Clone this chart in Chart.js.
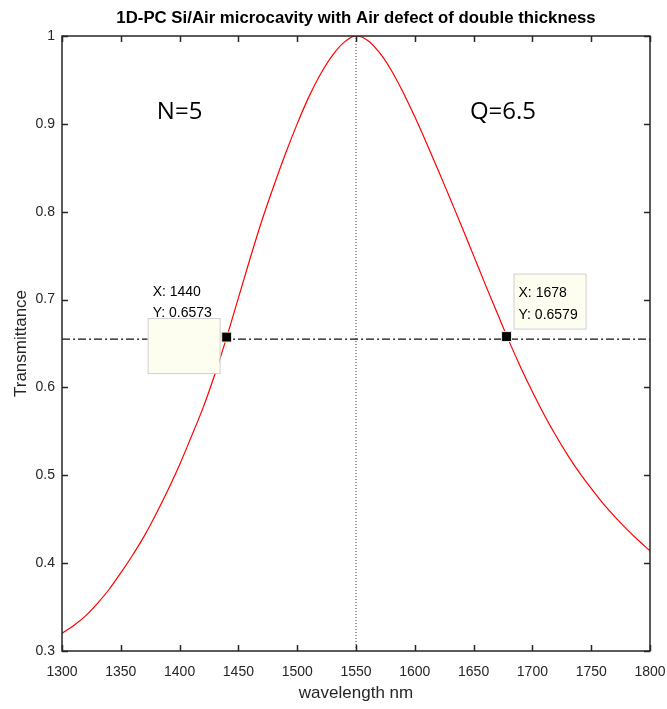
<!DOCTYPE html>
<html>
<head>
<meta charset="utf-8">
<title>1D-PC Si/Air microcavity</title>
<script src="https://cdn.jsdelivr.net/npm/chart.js@4/dist/chart.umd.min.js"></script>
<style>
  html, body { margin: 0; padding: 0; background: #ffffff; }
  #wrap { width: 667px; height: 709px; }
</style>
</head>
<body>
<div id="wrap"><canvas id="c" width="667" height="709"></canvas></div>
<script>
// Transmission spectrum of the microcavity (wavelength in nm)
const wavelengths = [
  1300, 1310, 1320, 1330, 1340, 1350, 1360, 1370, 1380, 1390,
  1400, 1410, 1420, 1430, 1440, 1450, 1460, 1470, 1480, 1490,
  1500, 1510, 1520, 1530, 1540, 1550, 1560, 1570, 1580, 1590,
  1600, 1610, 1620, 1630, 1640, 1650, 1660, 1670, 1680, 1690,
  1700, 1710, 1720, 1730, 1740, 1750, 1760, 1770, 1780, 1790, 1800
];
const transmittance = [
  0.320, 0.329, 0.340, 0.354, 0.370, 0.389, 0.409, 0.431, 0.456, 0.483,
  0.512, 0.544, 0.577, 0.615, 0.657, 0.702, 0.747, 0.790, 0.829, 0.866,
  0.900, 0.931, 0.957, 0.978, 0.993, 1.000, 0.995, 0.981, 0.961, 0.936,
  0.908, 0.878, 0.847, 0.815, 0.783, 0.750, 0.717, 0.685, 0.653, 0.623,
  0.595, 0.569, 0.545, 0.523, 0.503, 0.485, 0.468, 0.453, 0.439, 0.426, 0.414
];

// Data tips at the two half-height crossings
const tipX = [1440, 1678];
const tipY = [0.6573, 0.6579];

// Reference lines: resonance centre and crossing level
const centerWavelength = 1550;
const crossingLevel = 0.655;

// Axis ranges and tick steps
const xRange = [1300, 1800];
const yRange = [0.3, 1.0];
const xStep = 50;
const yStep = 0.1;

// Text annotations: [label, wavelength, transmittance]
const notes = [
  ['N=5', 1400, 0.913],
  ['Q=6.5', 1675, 0.913]
];

const chartTitle = '1D-PC Si/Air microcavity with Air defect of double thickness';

const AXIS_COLOR = '#262626';
const SANS = '"Liberation Sans", Arial, Helvetica, sans-serif';

const curvePoints = wavelengths.map((w, i) => ({ x: w, y: transmittance[i] }));
const tipPoints = tipX.map((w, i) => ({ x: w, y: tipY[i] }));

// Boxes of the data tips, drawn just before the marker squares
const dataTipBoxes = {
  id: 'dataTipBoxes',
  beforeDatasetDraw(chart, args) {
    if (args.index !== 0) return;
    const { ctx, scales: { x, y } } = chart;
    ctx.save();
    ctx.font = '14px ' + SANS;
    ctx.textAlign = 'left';
    ctx.textBaseline = 'alphabetic';
    tipPoints.forEach((p, i) => {
      const px = x.getPixelForValue(p.x);
      const py = y.getPixelForValue(p.y);
      let bx, by, tx, ty1, ty2;
      if (i === 0) {
        bx = px - 79; by = py - 19;
        tx = px - 74; ty1 = py - 41; ty2 = py - 20;
      } else {
        bx = px + 7; by = py - 63;
        tx = px + 12; ty1 = py - 40; ty2 = py - 18;
      }
      ctx.fillStyle = '#fefef0';
      ctx.strokeStyle = '#cfcfcf';
      ctx.lineWidth = 1;
      ctx.fillRect(bx, by, 72, 55);
      ctx.strokeRect(bx + 0.5, by + 0.5, 72, 55);
      ctx.fillStyle = '#000000';
      ctx.fillText('X: ' + p.x, tx, ty1);
      ctx.fillText('Y: ' + p.y.toFixed(4), tx, ty2);
    });
    ctx.restore();
  }
};

// Axes box with inward ticks on all four sides, the title and the text notes
const axesBox = {
  id: 'axesBox',
  afterDraw(chart) {
    const { ctx, chartArea: a, scales: { x, y } } = chart;
    ctx.save();
    ctx.strokeStyle = AXIS_COLOR;
    ctx.lineWidth = 1.5;
    ctx.strokeRect(a.left, a.top, a.right - a.left, a.bottom - a.top);
    const tl = 6;
    ctx.beginPath();
    for (let v = xRange[0]; v <= xRange[1] + 1e-9; v += xStep) {
      const px = Math.round(x.getPixelForValue(v)) + 0.5;
      ctx.moveTo(px, a.bottom); ctx.lineTo(px, a.bottom - tl);
      ctx.moveTo(px, a.top); ctx.lineTo(px, a.top + tl);
    }
    for (let k = 0; k <= Math.round((yRange[1] - yRange[0]) / yStep); k++) {
      const v = yRange[0] + k * yStep;
      const py = Math.round(y.getPixelForValue(v)) + 0.5;
      ctx.moveTo(a.left, py); ctx.lineTo(a.left + tl, py);
      ctx.moveTo(a.right, py); ctx.lineTo(a.right - tl, py);
    }
    ctx.stroke();

    // title centred over the plot area
    ctx.fillStyle = '#000000';
    ctx.font = 'bold 16.8px ' + SANS;
    ctx.textAlign = 'center';
    ctx.textBaseline = 'middle';
    ctx.fillText(chartTitle, (a.left + a.right) / 2, 18);

    ctx.font = '24px "Open Sans", Lato, sans-serif';
    notes.forEach(([t, wx, ty]) => {
      ctx.fillText(t, x.getPixelForValue(wx), y.getPixelForValue(ty));
    });
    ctx.restore();
  }
};

new Chart(document.getElementById('c'), {
  type: 'scatter',
  data: {
    datasets: [
      {
        label: 'data tips',
        data: tipPoints,
        showLine: false,
        pointStyle: 'rect',
        pointRadius: 7,
        pointBackgroundColor: '#000000',
        pointBorderColor: '#f3efc4',
        pointBorderWidth: 1
      },
      {
        label: 'transmittance',
        data: curvePoints,
        showLine: true,
        borderColor: '#ff0000',
        borderWidth: 1.2,
        pointRadius: 0,
        cubicInterpolationMode: 'monotone',
        fill: false
      },
      {
        label: 'crossing level',
        data: [{ x: xRange[0], y: crossingLevel }, { x: xRange[1], y: crossingLevel }],
        showLine: true,
        borderColor: '#111111',
        borderWidth: 1.1,
        borderDash: [8, 3, 2, 3],
        pointRadius: 0
      },
      {
        label: 'centre',
        data: [{ x: centerWavelength, y: yRange[0] }, { x: centerWavelength, y: yRange[1] }],
        showLine: true,
        borderColor: '#333333',
        borderWidth: 1,
        borderDash: [1, 2],
        pointRadius: 0
      }
    ]
  },
  options: {
    responsive: false,
    animation: false,
    devicePixelRatio: 1,
    layout: { padding: { left: 0, right: 17, top: 36, bottom: 0 } },
    plugins: {
      legend: { display: false },
      tooltip: { enabled: false },
      title: { display: false }
    },
    scales: {
      x: {
        type: 'linear',
        min: xRange[0],
        max: xRange[1],
        afterFit(s) { s.height = 58; s.paddingLeft = 0; s.paddingRight = 0; },
        afterBuildTicks(s) {
          const t = [];
          for (let v = xRange[0]; v <= xRange[1]; v += xStep) t.push({ value: v });
          s.ticks = t;
        },
        ticks: {
          color: AXIS_COLOR,
          font: { family: SANS, size: 14 },
          padding: 13,
          maxRotation: 0,
          autoSkip: false,
          callback: v => String(v)
        },
        grid: { display: true, drawOnChartArea: false, drawTicks: false },
        border: { display: false },
        title: {
          display: true,
          text: 'wavelength nm',
          color: AXIS_COLOR,
          font: { family: SANS, size: 17 },
          padding: { top: 0, bottom: 5 }
        }
      },
      y: {
        type: 'linear',
        min: yRange[0],
        max: yRange[1],
        afterFit(s) { s.width = 62; s.paddingTop = 0; s.paddingBottom = 0; },
        afterBuildTicks(s) {
          const t = [];
          for (let k = 0; k <= 7; k++) t.push({ value: Math.round((yRange[0] + k * yStep) * 10) / 10 });
          s.ticks = t;
        },
        ticks: {
          color: AXIS_COLOR,
          font: { family: SANS, size: 14 },
          padding: 7,
          callback: v => String(Math.round(v * 10) / 10)
        },
        grid: { display: true, drawOnChartArea: false, drawTicks: false },
        border: { display: false },
        title: {
          display: true,
          text: 'Transmittance',
          color: AXIS_COLOR,
          font: { family: SANS, size: 17 },
          padding: { top: 11, bottom: 0 }
        }
      }
    }
  },
  plugins: [dataTipBoxes, axesBox]
});
</script>
</body>
</html>
